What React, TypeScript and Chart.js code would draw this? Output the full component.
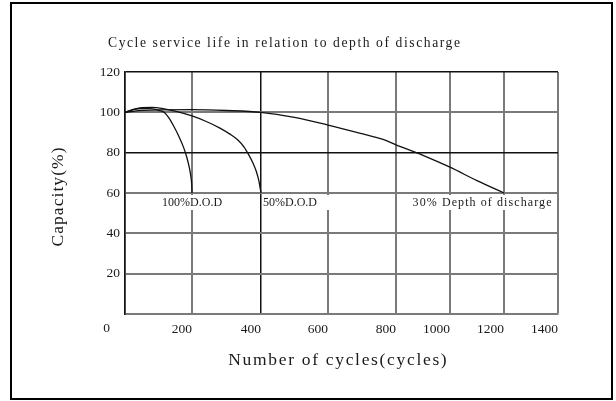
import React, { useEffect, useRef } from 'react';
import { Chart, LinearScale, registerables } from 'chart.js';

// ---------- data ----------
const X_TICKS = [0, 200, 400, 600, 800, 1000, 1200, 1400];
const Y_TICKS = [0, 20, 40, 60, 80, 100, 120];

const CYCLES_100 = [0, 25, 50, 75, 100, 120, 132, 146, 161, 174, 184, 191.5, 196.8, 199.2, 200];
const CAPACITY_100 = [100, 101.3, 101.9, 101.8, 101, 99.6, 97, 93, 88, 83, 78, 73, 68, 64, 60];

const CYCLES_50 = [0, 25, 50, 80, 110, 150, 200, 238, 281, 310, 333, 351, 365, 377, 386, 394, 400];
const CAPACITY_50 = [100, 101.5, 102.3, 102.5, 102, 100.6, 98.2, 95.7, 92.2, 89.2, 86.3, 82.8, 78.8, 74.8, 70.9, 65.9, 60];

const CYCLES_30 = [0, 40, 100, 200, 300, 400, 500, 600, 700, 762, 800, 900, 1000, 1100, 1200];
const CAPACITY_30 = [100, 100.8, 101.2, 101.3, 100.9, 100, 97.5, 93.7, 89.4, 86.6, 83.9, 78.7, 72.8, 66.1, 60];

const TITLE = 'Cycle service life in relation to depth of discharge';
const X_TITLE = 'Number of cycles(cycles)';
const Y_TITLE = 'Capacity(%)';
const CURVE_LABELS = ['100%D.O.D', '50%D.O.D', '30% Depth of discharge'];

// ---------- layout / style ----------
// the source grid is drawn unevenly: pixel offsets of each x grid line inside the plot
const X_STOP_PX = [0, 67, 136, 203, 271, 325, 379, 433];
const FONT = 'Liberation Serif';
const BLACK = '#111111';
const GRAY = '#7a7a7a';
const TEXT = '#1a1a1a';

class PiecewiseScale extends LinearScale {
  static id = 'piecewise';
  static defaults = LinearScale.defaults;
  _frac(v: number) {
    const last = X_STOP_PX[X_STOP_PX.length - 1];
    const n = X_TICKS.length;
    for (let i = 0; i < n - 1; i++) {
      if (v <= X_TICKS[i + 1] || i === n - 2) {
        const t = (v - X_TICKS[i]) / (X_TICKS[i + 1] - X_TICKS[i]);
        return (X_STOP_PX[i] + t * (X_STOP_PX[i + 1] - X_STOP_PX[i])) / last;
      }
    }
    return 0;
  }
  getPixelForValue(v: any) {
    if (v === null || v === undefined || isNaN(v)) return NaN;
    return this.getPixelForDecimal(this._frac(+v));
  }
  getValueForPixel(p: number) {
    const last = X_STOP_PX[X_STOP_PX.length - 1];
    const d = this.getDecimalForPixel(p) * last;
    for (let i = 0; i < X_STOP_PX.length - 1; i++) {
      if (d <= X_STOP_PX[i + 1] || i === X_STOP_PX.length - 2) {
        const t = (d - X_STOP_PX[i]) / (X_STOP_PX[i + 1] - X_STOP_PX[i]);
        return X_TICKS[i] + t * (X_TICKS[i + 1] - X_TICKS[i]);
      }
    }
    return 0;
  }
}

Chart.register(...registerables, PiecewiseScale as any);

function zip(xs: number[], ys: number[]) {
  return xs.map((x, i) => ({ x, y: ys[i] }));
}

function drawSpaced(
  ctx: CanvasRenderingContext2D,
  text: string,
  x: number,
  y: number,
  pitch: number,
  size: number,
  align: 'left' | 'center' | 'right'
) {
  ctx.save();
  ctx.font = `${size}px "${FONT}"`;
  ctx.fillStyle = TEXT;
  ctx.textBaseline = 'middle';
  ctx.textAlign = 'left';
  (ctx as any).letterSpacing = '0px';
  const w = ctx.measureText(text).width;
  const total = pitch * text.length;
  const sp = Math.max(0, (total - w) / text.length);
  (ctx as any).letterSpacing = sp + 'px';
  const start = align === 'center' ? x - total / 2 : align === 'right' ? x - total : x;
  ctx.fillText(text, start + sp / 2, y);
  ctx.restore();
}

const decorPlugin = {
  id: 'decor',
  beforeDraw(chart: any) {
    const ctx = chart.ctx as CanvasRenderingContext2D;
    ctx.save();
    ctx.fillStyle = '#ffffff';
    ctx.fillRect(0, 0, chart.width, chart.height);
    ctx.strokeStyle = '#000';
    ctx.lineWidth = 2;
    ctx.strokeRect(11, 3, 601, 396);
    ctx.restore();
  },
  afterDraw(chart: any) {
    const ctx = chart.ctx as CanvasRenderingContext2D;
    const xs = chart.scales.x;
    const ys = chart.scales.y;
    const area = chart.chartArea;

    // title
    drawSpaced(ctx, TITLE, 284, 43, 6.8, 13.6, 'center');
    // x axis title
    drawSpaced(ctx, X_TITLE, (area.left + area.right) / 2 - 4, 360, 9.17, 17.5, 'center');
    // y axis title
    ctx.save();
    ctx.translate(58, (area.top + area.bottom) / 2 + 4);
    ctx.rotate(-Math.PI / 2);
    drawSpaced(ctx, Y_TITLE, 0, 0, 9.1, 17.5, 'center');
    ctx.restore();

    // shared origin label
    ctx.save();
    ctx.font = `13.5px "${FONT}"`;
    ctx.fillStyle = TEXT;
    ctx.textAlign = 'right';
    ctx.textBaseline = 'middle';
    ctx.fillText('0', xs.getPixelForValue(0) - 15, ys.getPixelForValue(0) + 14.5);
    ctx.restore();

    // curve labels with white boxes under the 60% line
    const y60 = ys.getPixelForValue(60);
    const p200 = xs.getPixelForValue(200);
    const p400 = xs.getPixelForValue(400);
    const p1400 = xs.getPixelForValue(1400);
    const boxes = [
      { l: p200 - 40, r: p200 + 38 },
      { l: p400 + 2.5, r: p400 + 128 },
      { l: p400 + 139, r: p1400 - 2.5 },
    ];
    ctx.save();
    ctx.fillStyle = '#ffffff';
    boxes.forEach((b) => ctx.fillRect(b.l, y60 + 2, b.r - b.l, 15));
    ctx.restore();
    drawSpaced(ctx, CURVE_LABELS[0], p200 - 2, y60 + 10, 6.2, 12, 'center');
    drawSpaced(ctx, CURVE_LABELS[1], p400 + 2, y60 + 10, 6.25, 12, 'left');
    drawSpaced(ctx, CURVE_LABELS[2], p1400 - 6, y60 + 10, 6.36, 12, 'right');
  },
};

export default function App() {
  const ref = useRef<HTMLCanvasElement>(null);
  useEffect(() => {
    const lineStyle = {
      borderColor: BLACK,
      borderWidth: 1.3,
      pointRadius: 0,
      fill: false,
      cubicInterpolationMode: 'monotone' as const,
    };
    const chart = new Chart(ref.current as HTMLCanvasElement, {
      type: 'line',
      data: {
        datasets: [
          { label: CURVE_LABELS[0], data: zip(CYCLES_100, CAPACITY_100), ...lineStyle },
          { label: CURVE_LABELS[1], data: zip(CYCLES_50, CAPACITY_50), ...lineStyle },
          { label: CURVE_LABELS[2], data: zip(CYCLES_30, CAPACITY_30), ...lineStyle },
        ],
      },
      options: {
        animation: false,
        responsive: false,
        maintainAspectRatio: false,
        layout: { padding: { left: 0, top: 72, right: 58, bottom: 57 } },
        plugins: {
          legend: { display: false },
          title: { display: false },
          tooltip: { enabled: false },
        },
        scales: {
          x: {
            type: 'piecewise' as any,
            min: 0,
            max: 1400,
            afterBuildTicks: (s: any) => {
              s.ticks = X_TICKS.map((value) => ({ value }));
            },
            afterFit: (s: any) => {
              s.height = 30;
            },
            grid: {
              drawTicks: false,
              color: (c: any) => (c.tick && (c.tick.value === 0 || c.tick.value === 400) ? BLACK : GRAY),
              lineWidth: (c: any) => (c.tick && (c.tick.value === 0 || c.tick.value === 400) ? 1.5 : 2),
            },
            border: { color: GRAY, width: 2 },
            ticks: {
              align: 'end',
              padding: 7,
              autoSkip: false,
              maxRotation: 0,
              color: TEXT,
              font: { family: FONT, size: 13.5 },
              callback: (v: any) => (v === 0 ? '' : String(v)),
            },
          } as any,
          y: {
            min: 0,
            max: 120,
            afterBuildTicks: (s: any) => {
              s.ticks = Y_TICKS.map((value) => ({ value }));
            },
            afterFit: (s: any) => {
              s.width = 125;
            },
            grid: {
              drawTicks: false,
              color: (c: any) => (c.tick && (c.tick.value === 120 || c.tick.value === 80) ? BLACK : GRAY),
              lineWidth: (c: any) => (c.tick && (c.tick.value === 120 || c.tick.value === 80) ? 1.5 : 2),
            },
            border: { color: BLACK, width: 1.5 },
            ticks: {
              padding: 5,
              color: TEXT,
              font: { family: FONT, size: 13.5 },
              callback: (v: any) => (v === 0 ? '' : String(v)),
            },
          },
        },
      },
      plugins: [decorPlugin],
    } as any);
    return () => chart.destroy();
  }, []);
  return (
    <div style={{ position: 'absolute', left: 0, top: 0, width: 616, height: 401, background: '#fff' }}>
      <canvas ref={ref} width={616} height={401} style={{ display: 'block' }} />
    </div>
  );
}
